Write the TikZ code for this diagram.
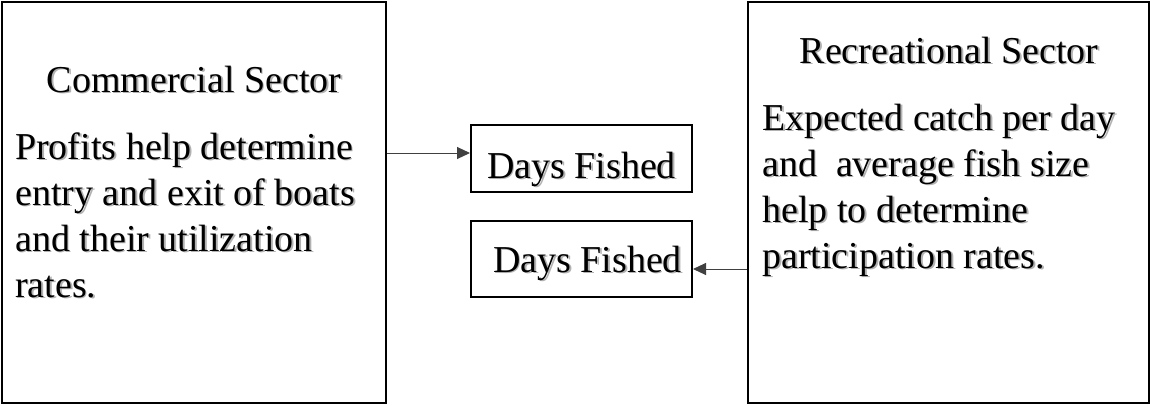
\documentclass[tikz,border=0pt]{standalone}
\usepackage{fontspec}
\setmainfont{Liberation Serif}
\usetikzlibrary{arrows.meta}
\newcommand\shtxt[1]{\leavevmode\rlap{\hspace{1.8pt}\raisebox{-1.8pt}{\textcolor{black!30}{#1}}}#1}
\begin{document}
\begin{tikzpicture}[x=1pt,y=-1pt,
  sector/.style={draw,line width=2pt,minimum height=401pt,inner sep=0pt},
  daysbox/.style={draw,line width=2pt,minimum width=221pt,inner sep=0pt,text depth=0pt,
    font=\fontsize{38}{46}\selectfont},
  words/.style={inner sep=0pt,font=\fontsize{38}{46}\selectfont,align=left},
  flow/.style={line width=1pt,draw=black!75,-{Triangle[length=13pt,width=12pt]}}]
  \useasboundingbox (0,0) rectangle (1150,405);
  % the two sectors
  \node[sector,minimum width=384pt] (comm) at (194,202.5) {};
  \node[sector,minimum width=401pt] (rec) at (948.5,202.5) {};
  \node[words,anchor=base] (commtitle) at (194,92) {\shtxt{Commercial Sector}};
  \node[words,anchor=base west] (commtext) at (15,297)
    {\shtxt{Profits help determine}\\ \shtxt{entry and exit of boats}\\
     \shtxt{and their utilization}\\ \shtxt{rates.}};
  \node[words,anchor=base] (rectitle) at (949,63) {\shtxt{Recreational Sector}};
  \node[words,anchor=base west] (rectext) at (762,268)
    {\shtxt{Expected catch per day}\\ \shtxt{and~ average fish size}\\
     \shtxt{help to determine}\\ \shtxt{participation rates.}};
  % days fished
  \node[daysbox,minimum height=67pt,text height=39pt] (days1) at (581.5,158.5) {\shtxt{Days Fished}};
  \node[daysbox,minimum height=76pt,text height=26pt] (days2) at (581.5,259) {\hspace*{12pt}\shtxt{Days Fished}};
  \coordinate (upY) at (0,153);
  \coordinate (lowY) at (0,269);
  \draw[flow] (comm.east |- upY) -- (days1.west |- upY);
  \draw[flow] (rec.west |- lowY) -- (days2.east |- lowY);
\end{tikzpicture}
\end{document}
